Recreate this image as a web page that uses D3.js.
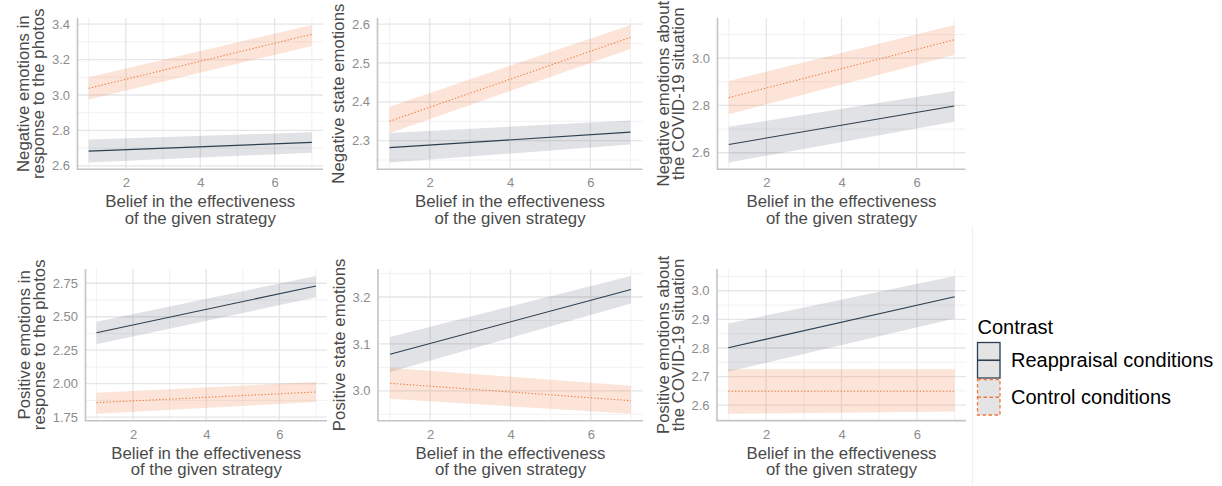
<!DOCTYPE html>
<html>
<head>
<meta charset="utf-8">
<script src="https://cdn.jsdelivr.net/npm/d3@7"></script>
<style>
  html, body { margin: 0; padding: 0; background: #fff; }
  svg { display: block; font-family: "Liberation Sans", Arial, Helvetica, sans-serif; }
</style>
</head>
<body>
<svg id="chart" width="1222" height="486"></svg>
<script>
// Predicted outcome by belief in the effectiveness of the assigned strategy,
// with 95% confidence bands, for reappraisal vs. control conditions.

const beliefRange = [1, 7];
const xTicks = [2, 4, 6];
const xTitle = ["Belief in the effectiveness", "of the given strategy"];

const outcomeTitles = [
  ["Negative emotions in", "response to the photos"],
  ["Negative state emotions"],
  ["Negative emotions about", "the COVID-19 situation"],
  ["Positive emotions in", "response to the photos"],
  ["Positive state emotions"],
  ["Positive emotions about", "the COVID-19 situation"]
];

const yTicks = [
  [2.6, 2.8, 3.0, 3.2, 3.4],
  [2.3, 2.4, 2.5, 2.6],
  [2.6, 2.8, 3.0],
  [1.75, 2.00, 2.25, 2.50, 2.75],
  [3.0, 3.1, 3.2],
  [2.6, 2.7, 2.8, 2.9, 3.0]
];
const yTickDigits = [1, 1, 1, 2, 1, 1];

// fitted values at belief = 1 and belief = 7
const reappraisalFit   = [[2.683, 2.732], [2.282, 2.322], [2.635, 2.798], [2.380, 2.730], [3.078, 3.216], [2.801, 2.979]];
const reappraisalLower = [[2.619, 2.674], [2.244, 2.290], [2.559, 2.731], [2.295, 2.645], [3.040, 3.186], [2.717, 2.903]];
const reappraisalUpper = [[2.749, 2.789], [2.320, 2.352], [2.710, 2.861], [2.462, 2.805], [3.115, 3.245], [2.886, 3.052]];

const controlFit   = [[3.038, 3.343], [2.350, 2.566], [2.833, 3.078], [1.858, 1.938], [3.016, 2.979], [2.649, 2.649]];
const controlLower = [[2.975, 3.277], [2.319, 2.536], [2.763, 3.014], [1.775, 1.863], [2.983, 2.951], [2.570, 2.578]];
const controlUpper = [[3.100, 3.396], [2.387, 2.598], [2.904, 3.141], [1.932, 2.012], [3.049, 3.011], [2.726, 2.726]];

const legendTitle = "Contrast";
const seriesNames = ["Reappraisal conditions", "Control conditions"];

// ---- styling / layout ----
const series = [
  { name: seriesNames[0], fit: reappraisalFit, lower: reappraisalLower, upper: reappraisalUpper,
    color: "#2c3e50", bandOpacity: 0.15, dash: null, keyDash: null },
  { name: seriesNames[1], fit: controlFit, lower: controlLower, upper: controlUpper,
    color: "#f07a3c", bandOpacity: 0.2, dash: "1.3,2", keyDash: "3.5,2.5" }
];

const panelBoxes = [
  { left: 77.5, right: 323,   top: 18,  bottom: 169.3 },
  { left: 377.5, right: 642.5, top: 18,  bottom: 169.3 },
  { left: 717.5, right: 965.5, top: 18,  bottom: 169.3 },
  { left: 85.5, right: 327,   top: 269, bottom: 420.7 },
  { left: 378, right: 643,    top: 269, bottom: 420.7 },
  { left: 717, right: 966,    top: 269, bottom: 420.7 }
];

const titleColor = "#4a4a4a";
const tickColor = "#8c8c8c";
const titleSize = 16.8;

const svg = d3.select("#chart");
svg.append("rect").attr("width", 1222).attr("height", 486).attr("fill", "#fff");

// faint divider to the left of the legend
svg.append("line")
  .attr("x1", 972.5).attr("x2", 972.5).attr("y1", 227).attr("y2", 486)
  .attr("stroke", "#f0f0f0").attr("stroke-width", 1);

function expand(ext, f) {
  const d = (ext[1] - ext[0]) * f;
  return [ext[0] - d, ext[1] + d];
}

function minorBreaks(ticks, domain) {
  const step = ticks[1] - ticks[0];
  const out = [];
  for (let v = ticks[0] - step / 2; v <= ticks[ticks.length - 1] + step / 2 + 1e-9; v += step) {
    if (v >= domain[0] && v <= domain[1]) out.push(+v.toFixed(6));
  }
  return out;
}

outcomeTitles.forEach((titleLines, i) => {
  const box = panelBoxes[i];
  const g = svg.append("g");

  const x = d3.scaleLinear().domain(expand(beliefRange, 0.05)).range([box.left, box.right]);

  const allVals = series.flatMap(s => [...s.lower[i], ...s.upper[i]]);
  const yDomain = expand(d3.extent(allVals), 0.05);
  const y = d3.scaleLinear().domain(yDomain).range([box.bottom, box.top]);

  const xMinor = minorBreaks(xTicks, x.domain());
  const yMinor = minorBreaks(yTicks[i], yDomain);

  // grid
  const grid = g.append("g");
  grid.selectAll(".xminor").data(xMinor).join("line")
    .attr("x1", d => x(d)).attr("x2", d => x(d))
    .attr("y1", box.top).attr("y2", box.bottom)
    .attr("stroke", "#efefef").attr("stroke-width", 0.9);
  grid.selectAll(".yminor").data(yMinor).join("line")
    .attr("y1", d => y(d)).attr("y2", d => y(d))
    .attr("x1", box.left).attr("x2", box.right)
    .attr("stroke", "#efefef").attr("stroke-width", 0.9);
  grid.selectAll(".xmajor").data(xTicks).join("line")
    .attr("x1", d => x(d)).attr("x2", d => x(d))
    .attr("y1", box.top).attr("y2", box.bottom)
    .attr("stroke", "#e6e6e6").attr("stroke-width", 1.3);
  grid.selectAll(".ymajor").data(yTicks[i]).join("line")
    .attr("y1", d => y(d)).attr("y2", d => y(d))
    .attr("x1", box.left).attr("x2", box.right)
    .attr("stroke", "#e6e6e6").attr("stroke-width", 1.3);

  // confidence bands and fitted lines
  series.forEach(s => {
    const pts = beliefRange.map((b, k) => ({ b, fit: s.fit[i][k], lo: s.lower[i][k], hi: s.upper[i][k] }));
    g.append("path").datum(pts)
      .attr("d", d3.area().x(d => x(d.b)).y0(d => y(d.lo)).y1(d => y(d.hi)))
      .attr("fill", s.color).attr("fill-opacity", s.bandOpacity);
  });
  series.forEach(s => {
    const pts = beliefRange.map((b, k) => ({ b, fit: s.fit[i][k] }));
    g.append("path").datum(pts)
      .attr("d", d3.line().x(d => x(d.b)).y(d => y(d.fit)))
      .attr("fill", "none").attr("stroke", s.color).attr("stroke-width", 1.1)
      .attr("stroke-dasharray", s.dash);
  });

  // axis lines
  g.append("line").attr("x1", box.left).attr("x2", box.left)
    .attr("y1", box.top).attr("y2", box.bottom)
    .attr("stroke", "#c4c4c4").attr("stroke-width", 1.6);
  g.append("line").attr("x1", box.left - 0.8).attr("x2", box.right)
    .attr("y1", box.bottom).attr("y2", box.bottom)
    .attr("stroke", "#c4c4c4").attr("stroke-width", 1.6);

  // tick labels
  const yAxis = g.append("g").attr("transform", `translate(${box.left},0)`)
    .call(d3.axisLeft(y).tickValues(yTicks[i]).tickSize(0).tickPadding(7.5)
      .tickFormat(d3.format(`.${yTickDigits[i]}f`)));
  const xAxis = g.append("g").attr("transform", `translate(0,${box.bottom})`)
    .call(d3.axisBottom(x).tickValues(xTicks).tickSize(0).tickPadding(8.8).tickFormat(d3.format("d")));
  [yAxis, xAxis].forEach(a => {
    a.select(".domain").remove();
    a.selectAll("text").attr("fill", tickColor).style("font-size", "13px")
      .style("font-family", "'Liberation Sans', Arial, sans-serif");
  });

  // x title
  const cx = (box.left + box.right) / 2;
  const xt = g.append("text").attr("text-anchor", "middle").attr("fill", titleColor)
    .style("font-size", `${titleSize}px`);
  xTitle.forEach((line, k) => {
    xt.append("tspan").attr("x", cx).attr("y", box.bottom + 37.8 + k * 16.8).text(line);
  });

  // y title, placed just left of the tick labels
  const tickLeft = yAxis.node().getBBox().x + box.left;
  const baseX = tickLeft - 7.5;
  const cy = (box.top + box.bottom) / 2;
  const n = titleLines.length;
  const yt = g.append("text").attr("text-anchor", "middle").attr("fill", titleColor)
    .style("font-size", `${titleSize}px`)
    .attr("transform", `translate(${baseX},${cy}) rotate(-90)`);
  titleLines.forEach((line, k) => {
    yt.append("tspan").attr("x", 0).attr("y", -(n - 1 - k) * 15.3).text(line);
  });
});

// legend
const legend = svg.append("g").attr("transform", "translate(977.5,0)");
legend.append("text").attr("x", 0).attr("y", 333.5).attr("fill", "#000")
  .style("font-size", "20px").text(legendTitle);

const keyW = 22.5, keyH = 35.5, keyTop = 342.5, keyGap = 1.5;
series.forEach((s, k) => {
  const top = keyTop + k * (keyH + keyGap);
  const item = legend.append("g");
  item.append("rect").attr("x", 0).attr("y", top).attr("width", keyW).attr("height", keyH)
    .attr("fill", "#e4e4e4").attr("stroke", s.color).attr("stroke-width", 1.3)
    .attr("stroke-dasharray", s.keyDash);
  item.append("line").attr("x1", 0).attr("x2", keyW)
    .attr("y1", top + keyH / 2).attr("y2", top + keyH / 2)
    .attr("stroke", s.color).attr("stroke-width", 1.6).attr("stroke-dasharray", s.keyDash);
  item.append("text").attr("x", 33.5).attr("y", top + keyH / 2 + 7.2).attr("fill", "#000")
    .style("font-size", "20px").text(s.name);
});
</script>
</body>
</html>
